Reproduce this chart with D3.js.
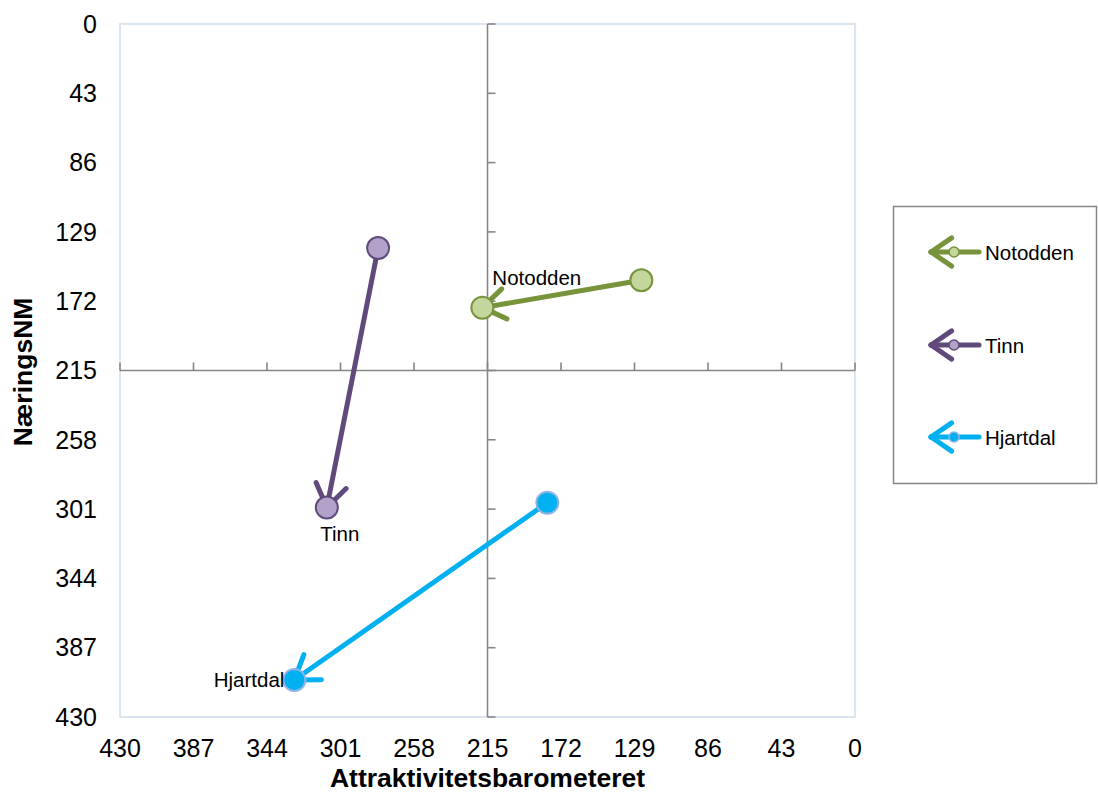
<!DOCTYPE html>
<html><head><meta charset="utf-8">
<script src="https://cdn.jsdelivr.net/npm/d3@7"></script>
<style>body{margin:0;background:#fff}svg{display:block;font-family:"Liberation Sans",Arial,sans-serif}</style>
</head><body><svg id="c" width="1098" height="797"></svg>
<script>
const names = ["Notodden", "Tinn", "Hjartdal"];
const xStart = [125, 279, 180];
const yStart = [159, 139, 297];
const xEnd = [218, 309, 328];
const yEnd = [176, 300, 407];
const lineColors = ["#77933c", "#604a7b", "#00b0f0"];
const fillColors = ["#c3d69b", "#b3a2c7", "#00b0f0"];
const strokeColors = ["#77933c", "#604a7b", "#8eb4e3"];
const ticks = [0, 43, 86, 129, 172, 215, 258, 301, 344, 387, 430];

const svg = d3.select("#c");
const L = 120, R = 855, T = 24, B = 717;
const x = d3.scaleLinear().domain([430, 0]).range([L, R]);
const y = d3.scaleLinear().domain([0, 430]).range([T, B]);

svg.append("rect").attr("x", L).attr("y", T).attr("width", R - L).attr("height", B - T)
  .attr("fill", "none").attr("stroke", "#dce6f2").attr("stroke-width", 2);

// tick labels
svg.append("g").selectAll("text").data(ticks).join("text")
  .attr("x", 97).attr("y", d => y(d)).attr("dy", "0.35em").attr("text-anchor", "end")
  .attr("font-size", 25).attr("fill", "#000").text(d => d);
svg.append("g").selectAll("text").data(ticks).join("text")
  .attr("x", d => x(d)).attr("y", 757).attr("text-anchor", "middle")
  .attr("font-size", 25).attr("fill", "#000").text(d => d);

// cross axes at 215
const cx = x(215), cy = y(215);
const ax = svg.append("g").attr("stroke", "#868686").attr("stroke-width", 1.6);
ax.append("line").attr("x1", cx).attr("x2", cx).attr("y1", T).attr("y2", B);
ax.append("line").attr("x1", L).attr("x2", R).attr("y1", cy).attr("y2", cy);
ax.selectAll(".tx").data(ticks).join("line").attr("class", "tx")
  .attr("x1", d => x(d)).attr("x2", d => x(d)).attr("y1", cy).attr("y2", cy - 8);
ax.selectAll(".ty").data(ticks).join("line").attr("class", "ty")
  .attr("y1", d => y(d)).attr("y2", d => y(d)).attr("x1", cx).attr("x2", cx + 8);

// axis titles
svg.append("text").attr("x", x(215)).attr("y", 787).attr("text-anchor", "middle")
  .attr("font-size", 26.5).attr("font-weight", "bold").text("Attraktivitetsbarometeret");
svg.append("text").attr("transform", `translate(32,372) rotate(-90)`).attr("text-anchor", "middle")
  .attr("font-size", 26.5).attr("font-weight", "bold").text("NæringsNM");

function arrowHead(g, x0, y0, x1, y1, len, ang, color, w) {
  const a = Math.atan2(y0 - y1, x0 - x1);
  [ang, -ang].forEach(s => {
    g.append("line").attr("x1", x1).attr("y1", y1)
      .attr("x2", x1 + len * Math.cos(a + s)).attr("y2", y1 + len * Math.sin(a + s))
      .attr("stroke", color).attr("stroke-width", w).attr("stroke-linecap", "round");
  });
}

names.forEach((n, i) => {
  const g = svg.append("g");
  const x0 = x(xStart[i]), y0 = y(yStart[i]), x1 = x(xEnd[i]), y1 = y(yEnd[i]);
  g.append("line").attr("x1", x0).attr("y1", y0).attr("x2", x1).attr("y2", y1)
    .attr("stroke", lineColors[i]).attr("stroke-width", 5).attr("stroke-linecap", "round");
  arrowHead(g, x0, y0, x1, y1, 27, 0.6, lineColors[i], 5);
  [[x0, y0], [x1, y1]].forEach(p => {
    g.append("circle").attr("cx", p[0]).attr("cy", p[1]).attr("r", 11)
      .attr("fill", fillColors[i]).attr("stroke", strokeColors[i]).attr("stroke-width", 2);
  });
});

// data labels
const lab = svg.append("g").attr("font-size", 20.5).attr("fill", "#000");
lab.append("text").attr("x", x(xEnd[0]) + 10).attr("y", y(yEnd[0]) - 23).text(names[0]);
lab.append("text").attr("x", x(xEnd[1]) + 13).attr("y", y(yEnd[1]) + 34).attr("text-anchor", "middle").text(names[1]);
lab.append("text").attr("x", x(xEnd[2]) - 10).attr("y", y(yEnd[2]) + 7).attr("text-anchor", "end").text(names[2]);

// legend
svg.append("rect").attr("x", 893.5).attr("y", 206.5).attr("width", 203).attr("height", 277)
  .attr("fill", "#fff").attr("stroke", "#868686").attr("stroke-width", 1.5);
const ly = [252, 345, 437];
names.forEach((n, i) => {
  const g = svg.append("g");
  g.append("line").attr("x1", 979).attr("y1", ly[i]).attr("x2", 931).attr("y2", ly[i])
    .attr("stroke", lineColors[i]).attr("stroke-width", 5).attr("stroke-linecap", "round");
  arrowHead(g, 979, ly[i], 931, ly[i], 25, 0.6, lineColors[i], 5);
  g.append("circle").attr("cx", 954).attr("cy", ly[i]).attr("r", 5)
    .attr("fill", fillColors[i]).attr("stroke", strokeColors[i]).attr("stroke-width", 1.5);
  g.append("text").attr("x", 985).attr("y", ly[i] + 8).attr("font-size", 20.5).text(n);
});
</script></body></html>
